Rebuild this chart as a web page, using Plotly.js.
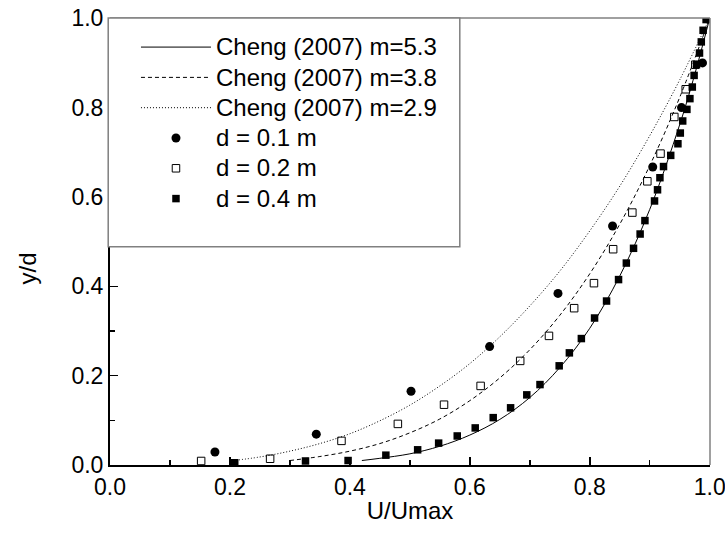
<!DOCTYPE html>
<html>
<head>
<meta charset="utf-8">
<script src="https://cdn.plot.ly/plotly-3.0.1.min.js"></script>
<style>html,body{margin:0;padding:0;background:#fff;}#chart{width:725px;height:535px;}</style>
</head>
<body>
<div id="chart"></div>
<script>
// Model curves (Cheng 2007)
var m53X = [0.42, 0.45, 0.50, 0.55, 0.60, 0.65, 0.70, 0.75, 0.80, 0.85, 0.90, 0.95, 0.975, 1.0];
var m53Y = [0.010, 0.015, 0.025, 0.042, 0.067, 0.102, 0.151, 0.218, 0.306, 0.423, 0.572, 0.762, 0.874, 1.0];
var m38X = [0.30, 0.35, 0.40, 0.45, 0.50, 0.55, 0.60, 0.65, 0.70, 0.75, 0.80, 0.85, 0.90, 0.95, 1.0];
var m38Y = [0.010, 0.019, 0.031, 0.048, 0.072, 0.103, 0.144, 0.195, 0.258, 0.335, 0.428, 0.539, 0.670, 0.823, 1.0];
var m29X = [0.20, 0.25, 0.30, 0.35, 0.40, 0.45, 0.50, 0.55, 0.60, 0.65, 0.70, 0.75, 0.80, 0.85, 0.90, 0.95, 1.0];
var m29Y = [0.009, 0.018, 0.031, 0.048, 0.070, 0.099, 0.134, 0.177, 0.227, 0.287, 0.356, 0.434, 0.524, 0.624, 0.737, 0.862, 1.0];

// Measurements
var d01X = [0.175, 0.344, 0.502, 0.633, 0.747, 0.838, 0.905, 0.953, 0.988];
var d01Y = [0.029, 0.069, 0.165, 0.265, 0.384, 0.535, 0.667, 0.800, 0.900];
var d02X = [0.152, 0.267, 0.386, 0.480, 0.557, 0.618, 0.684, 0.732, 0.774, 0.807, 0.839, 0.871, 0.896, 0.918, 0.941, 0.960, 0.976];
var d02Y = [0.009, 0.014, 0.054, 0.092, 0.135, 0.177, 0.233, 0.289, 0.351, 0.407, 0.483, 0.565, 0.635, 0.697, 0.779, 0.841, 0.896];
var d04X = [0.208, 0.326, 0.397, 0.460, 0.513, 0.548, 0.579, 0.609, 0.639, 0.668, 0.695, 0.717, 0.749, 0.766, 0.786, 0.808, 0.828, 0.848, 0.861, 0.873, 0.884, 0.892, 0.908, 0.913, 0.917, 0.923, 0.935, 0.947, 0.951, 0.955, 0.962, 0.967, 0.971, 0.974, 0.978, 0.983, 0.986, 0.989, 0.994];
var d04Y = [0.005, 0.009, 0.010, 0.022, 0.034, 0.049, 0.065, 0.083, 0.106, 0.128, 0.157, 0.180, 0.222, 0.251, 0.283, 0.329, 0.367, 0.415, 0.452, 0.485, 0.517, 0.547, 0.591, 0.616, 0.643, 0.668, 0.693, 0.719, 0.743, 0.770, 0.796, 0.820, 0.846, 0.872, 0.896, 0.922, 0.947, 0.973, 0.997];

var xTicks = [0, 0.2, 0.4, 0.6, 0.8, 1.0];
var xTickText = ['0.0', '0.2', '0.4', '0.6', '0.8', '1.0'];
var yTicks = [0, 0.2, 0.4, 0.6, 0.8, 1.0];
var yTickText = ['0.0', '0.2', '0.4', '0.6', '0.8', '1.0'];
var names = ['Cheng (2007) m=5.3', 'Cheng (2007) m=3.8', 'Cheng (2007) m=2.9', 'd = 0.1 m', 'd = 0.2 m', 'd = 0.4 m'];

var FONT = "'Liberation Sans', Arial, Helvetica, sans-serif";
function lg(s) { return '<span style="font-size:24px">' + s + '</span>'; }

var traces = [
  {x: m53X, y: m53Y, name: lg(names[0]), mode: 'lines', line: {color: '#000', width: 1, shape: 'spline'}},
  {x: m38X, y: m38Y, name: lg(names[1]), mode: 'lines', line: {color: '#000', width: 1, dash: '4px,3px', shape: 'spline'}},
  {x: m29X, y: m29Y, name: lg(names[2]), mode: 'lines', line: {color: '#000', width: 1, dash: '1px,2px', shape: 'spline'}},
  {x: d01X, y: d01Y, name: lg(names[3]), mode: 'markers', marker: {symbol: 'circle', size: 9, color: '#000'}},
  {x: d02X, y: d02Y, name: lg(names[4]), mode: 'markers', marker: {symbol: 'square-open', size: 7.5, color: '#000', line: {width: 1}}},
  {x: d04X, y: d04Y, name: lg(names[5]), mode: 'markers', marker: {symbol: 'square', size: 7.5, color: '#000'}}
];

var layout = {
  width: 725, height: 535,
  margin: {l: 110, r: 15, t: 18, b: 70},
  paper_bgcolor: '#fff', plot_bgcolor: '#fff',
  font: {family: FONT, color: '#000', size: 23},
  showlegend: true,
  legend: {
    x: 0.0433, y: 0.98, xanchor: 'left', yanchor: 'top',
    bgcolor: 'rgba(0,0,0,0)', borderwidth: 0,
    font: {family: FONT, size: 21, color: '#000'},
    itemwidth: 70, tracegroupgap: 0
  },
  xaxis: {
    range: [0, 1.0005], tickvals: xTicks, ticktext: xTickText,
    ticks: 'inside', ticklen: 8, tickwidth: 1.5, tickcolor: '#000',
    minor: {dtick: 0.1, ticks: 'inside', ticklen: 5, tickwidth: 1.5, tickcolor: '#000'},
    showline: true, linecolor: '#000', linewidth: 2, mirror: false,
    showgrid: false, zeroline: false, ticklabeloverflow: 'allow',
    tickfont: {size: 23},
    title: {text: 'U/Umax', font: {size: 24}, standoff: 4}
  },
  yaxis: {
    range: [0, 1.0005], tickvals: yTicks, ticktext: yTickText,
    ticks: 'inside', ticklen: 8, tickwidth: 1.5, tickcolor: '#000',
    minor: {dtick: 0.1, ticks: 'inside', ticklen: 5, tickwidth: 1.5, tickcolor: '#000'},
    showline: true, linecolor: '#000', linewidth: 2, mirror: false,
    showgrid: false, zeroline: false, ticklabeloverflow: 'allow',
    tickfont: {size: 23}
  },
  annotations: [
    {text: 'y/d', xref: 'paper', yref: 'paper', x: -0.138, y: 0.44, xanchor: 'center', yanchor: 'middle',
     textangle: -90, showarrow: false, font: {family: FONT, size: 24, color: '#000'}}
  ],
  shapes: [
    {type: 'line', xref: 'paper', yref: 'paper', x0: 0, x1: 1, y0: 1, y1: 1, line: {color: '#808080', width: 1.5}, layer: 'above'},
    {type: 'line', xref: 'paper', yref: 'paper', x0: 1, x1: 1, y0: 0, y1: 1, line: {color: '#808080', width: 1.5}, layer: 'above'},
    {type: 'rect', xref: 'paper', yref: 'paper', x0: -0.003, x1: 0.583, y0: 0.488, y1: 1.0, line: {color: '#808080', width: 1.5}, fillcolor: '#fff', layer: 'above'}
  ]
};

Plotly.newPlot('chart', traces, layout, {staticPlot: true, displayModeBar: false});
</script>
</body>
</html>
